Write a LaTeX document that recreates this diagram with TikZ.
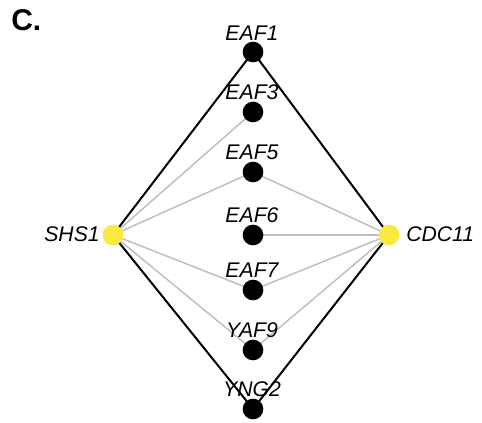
\documentclass[tikz,border=0pt]{standalone}
\usepackage{fontspec}
\setmainfont{Liberation Sans}
\usetikzlibrary{backgrounds}
\definecolor{hubyellow}{RGB}{248,234,62}
\definecolor{edgegray}{RGB}{190,190,190}
\begin{document}
\begin{tikzpicture}[x=0.75pt,y=-0.75pt,
  blackdot/.style={circle,fill=black,minimum size=15.5pt,inner sep=0pt},
  hubdot/.style={circle,fill=hubyellow,minimum size=15.5pt,inner sep=0pt},
  toplabel/.style={anchor=base,font=\fontsize{15.9}{18}\selectfont\itshape,inner sep=0pt},
  strong/.style={draw=black,line width=1.5pt},
  weak/.style={draw=edgegray,line width=1.1pt}]
\useasboundingbox (0,0) rectangle (482,423);
\node[anchor=north west,inner sep=0pt,font=\fontsize{22.5}{26}\selectfont\bfseries] (title) at (11,9) {C.};
\node[blackdot] (eaf1) at (253,52) {};
\node[blackdot] (eaf3) at (253,112) {};
\node[blackdot] (eaf5) at (253,172) {};
\node[blackdot] (eaf6) at (253,235) {};
\node[blackdot] (eaf7) at (253,290) {};
\node[blackdot] (yaf9) at (253,350) {};
\node[blackdot] (yng2) at (253,409) {};
\node[hubdot] (shs1) at (113,235) {};
\node[hubdot] (cdc11) at (389,235) {};
\begin{scope}[on background layer]
\draw[weak] (shs1.center) -- (eaf3.center);
\draw[weak] (shs1.center) -- (eaf5.center);
\draw[weak] (shs1.center) -- (eaf7.center);
\draw[weak] (shs1.center) -- (yaf9.center);
\draw[weak] (cdc11.center) -- (eaf5.center);
\draw[weak] (cdc11.center) -- (eaf6.center);
\draw[weak] (cdc11.center) -- (eaf7.center);
\draw[weak] (cdc11.center) -- (yaf9.center);
\draw[strong] (shs1.center) -- (eaf1.center);
\draw[strong] (shs1.center) -- (yng2.center);
\draw[strong] (cdc11.center) -- (eaf1.center);
\draw[strong] (cdc11.center) -- (yng2.center);
\end{scope}
\node[toplabel] (leaf1) at (252,41) {EAF1};
\node[toplabel] (leaf3) at (252,100) {EAF3};
\node[toplabel] (leaf5) at (252,160) {EAF5};
\node[toplabel] (leaf6) at (252,223) {EAF6};
\node[toplabel] (leaf7) at (252,278) {EAF7};
\node[toplabel] (lyaf9) at (252,338) {YAF9};
\node[toplabel] (lyng2) at (252,397) {YNG2};
\node[toplabel,anchor=base east] (lshs1) at (100,242) {SHS1};
\node[toplabel,anchor=base west] (lcdc11) at (406,242) {CDC11};
\end{tikzpicture}
\end{document}
